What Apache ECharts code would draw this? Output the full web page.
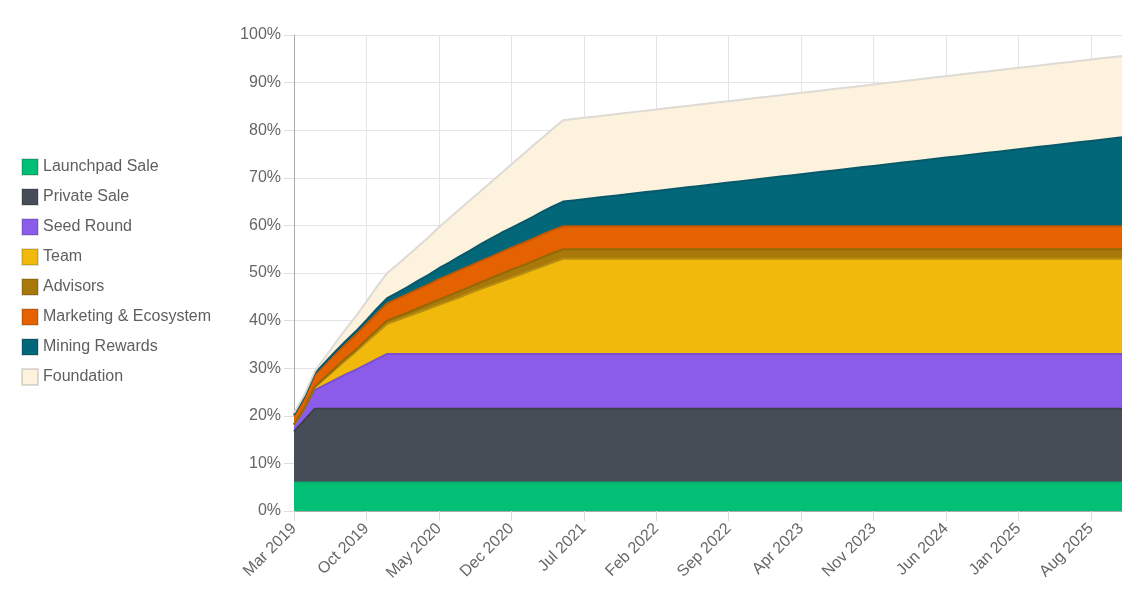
<!DOCTYPE html>
<html>
<head>
<meta charset="utf-8">
<title>Token Unlock Schedule</title>
<script src="https://cdn.jsdelivr.net/npm/echarts@6/dist/echarts.min.js"></script>
<style>
    html, body { margin: 0; padding: 0; background: #fff; }
    #main { width: 1137px; height: 599px; }
</style>
</head>
<body>
<div id="main"></div>
<script>
    // month labels, Mar 2019 .. Nov 2025
    var monthNames = ['Jan', 'Feb', 'Mar', 'Apr', 'May', 'Jun', 'Jul', 'Aug', 'Sep', 'Oct', 'Nov', 'Dec'];
    var startYear = 2019, startMonth = 2, monthCount = 81;
    var months = [];
    for (var i = 0; i < monthCount; i++) {
        var m = startMonth + i;
        months.push(monthNames[m % 12] + ' ' + (startYear + Math.floor(m / 12)));
    }

    // unlocked share of total supply, % per month
    var launchpadSale = [
        6, 6, 6, 6, 6, 6, 6, 6, 6, 6, 6, 6, 6, 6, 6, 6, 6, 6, 6, 6, 6, 6, 6, 6, 6, 6, 6,
        6, 6, 6, 6, 6, 6, 6, 6, 6, 6, 6, 6, 6, 6, 6, 6, 6, 6, 6, 6, 6, 6, 6, 6, 6, 6, 6,
        6, 6, 6, 6, 6, 6, 6, 6, 6, 6, 6, 6, 6, 6, 6, 6, 6, 6, 6, 6, 6, 6, 6, 6, 6, 6, 6
    ];
    var privateSale = [
        10.7, 13.1, 15.5, 15.5, 15.5, 15.5, 15.5, 15.5, 15.5, 15.5, 15.5, 15.5, 15.5, 15.5, 15.5, 15.5, 15.5, 15.5, 15.5, 15.5, 15.5, 15.5, 15.5, 15.5, 15.5, 15.5, 15.5,
        15.5, 15.5, 15.5, 15.5, 15.5, 15.5, 15.5, 15.5, 15.5, 15.5, 15.5, 15.5, 15.5, 15.5, 15.5, 15.5, 15.5, 15.5, 15.5, 15.5, 15.5, 15.5, 15.5, 15.5, 15.5, 15.5, 15.5,
        15.5, 15.5, 15.5, 15.5, 15.5, 15.5, 15.5, 15.5, 15.5, 15.5, 15.5, 15.5, 15.5, 15.5, 15.5, 15.5, 15.5, 15.5, 15.5, 15.5, 15.5, 15.5, 15.5, 15.5, 15.5, 15.5, 15.5
    ];
    var seedRound = [
        1.4, 2.3, 3.9, 5.0, 6.1, 7.2, 8.2, 9.3, 10.4, 11.5, 11.5, 11.5, 11.5, 11.5, 11.5, 11.5, 11.5, 11.5, 11.5, 11.5, 11.5, 11.5, 11.5, 11.5, 11.5, 11.5, 11.5,
        11.5, 11.5, 11.5, 11.5, 11.5, 11.5, 11.5, 11.5, 11.5, 11.5, 11.5, 11.5, 11.5, 11.5, 11.5, 11.5, 11.5, 11.5, 11.5, 11.5, 11.5, 11.5, 11.5, 11.5, 11.5, 11.5, 11.5,
        11.5, 11.5, 11.5, 11.5, 11.5, 11.5, 11.5, 11.5, 11.5, 11.5, 11.5, 11.5, 11.5, 11.5, 11.5, 11.5, 11.5, 11.5, 11.5, 11.5, 11.5, 11.5, 11.5, 11.5, 11.5, 11.5, 11.5
    ];
    var team = [
        0, 0.1, 0.6, 1.4, 2.2, 3.0, 3.8, 4.7, 5.5, 6.3, 7.1, 7.9, 8.7, 9.5, 10.3, 11.1, 11.9, 12.8, 13.6, 14.4, 15.2, 16.0, 16.8, 17.6, 18.4, 19.2, 20,
        20, 20, 20, 20, 20, 20, 20, 20, 20, 20, 20, 20, 20, 20, 20, 20, 20, 20, 20, 20, 20, 20, 20, 20, 20, 20, 20,
        20, 20, 20, 20, 20, 20, 20, 20, 20, 20, 20, 20, 20, 20, 20, 20, 20, 20, 20, 20, 20, 20, 20, 20, 20, 20, 20
    ];
    var advisors = [
        0.1, 0.1, 0.1, 0.2, 0.3, 0.4, 0.4, 0.5, 0.6, 0.7, 0.8, 0.8, 0.9, 1.0, 1.1, 1.2, 1.3, 1.3, 1.4, 1.5, 1.6, 1.7, 1.7, 1.8, 1.9, 2.0, 2.0,
        2, 2, 2, 2, 2, 2, 2, 2, 2, 2, 2, 2, 2, 2, 2, 2, 2, 2, 2, 2, 2, 2, 2, 2, 2, 2, 2,
        2, 2, 2, 2, 2, 2, 2, 2, 2, 2, 2, 2, 2, 2, 2, 2, 2, 2, 2, 2, 2, 2, 2, 2, 2, 2, 2
    ];
    var marketing = [
        1.8, 2.1, 2.5, 2.7, 2.9, 3.0, 3.2, 3.3, 3.5, 3.6, 3.7, 3.9, 4.0, 4.1, 4.3, 4.3, 4.4, 4.4, 4.5, 4.5, 4.6, 4.6, 4.7, 4.7, 4.8, 4.8, 4.8,
        4.8, 4.8, 4.8, 4.8, 4.8, 4.8, 4.8, 4.8, 4.8, 4.8, 4.8, 4.8, 4.8, 4.8, 4.8, 4.8, 4.8, 4.8, 4.8, 4.8, 4.8, 4.8, 4.8, 4.8, 4.8, 4.8, 4.8,
        4.8, 4.8, 4.8, 4.8, 4.8, 4.8, 4.8, 4.8, 4.8, 4.8, 4.8, 4.8, 4.8, 4.8, 4.8, 4.8, 4.8, 4.8, 4.8, 4.8, 4.8, 4.8, 4.8, 4.8, 4.8, 4.8, 4.8
    ];
    var miningRewards = [
        0.2, 0.3, 0.3, 0.4, 0.5, 0.6, 0.7, 0.8, 1.0, 1.1, 1.3, 1.5, 1.8, 2.0, 2.3, 2.6, 2.9, 3.2, 3.5, 3.8, 4.0, 4.2, 4.4, 4.6, 4.8, 5.0, 5.2,
        5.45, 5.7, 5.95, 6.2, 6.45, 6.7, 6.95, 7.2, 7.45, 7.7, 7.95, 8.2, 8.45, 8.7, 8.95, 9.2, 9.45, 9.7, 9.95, 10.2, 10.45, 10.7, 10.95, 11.2, 11.45, 11.7, 11.95,
        12.2, 12.45, 12.7, 12.95, 13.2, 13.45, 13.7, 13.95, 14.2, 14.45, 14.7, 14.95, 15.2, 15.45, 15.7, 15.95, 16.2, 16.45, 16.7, 16.95, 17.2, 17.45, 17.7, 17.95, 18.2, 18.45, 18.7
    ];
    var foundation = [
        0.4, 0.4, 0.4, 1.1, 1.8, 2.5, 3.2, 3.9, 4.6, 5.3, 5.9, 6.6, 7.2, 7.9, 8.6, 9.3, 9.9, 10.6, 11.1, 11.8, 12.5, 13.3, 14.1, 14.9, 15.5, 16.3, 17.1,
        17.1, 17.1, 17.1, 17.1, 17.1, 17.1, 17.1, 17.1, 17.1, 17.1, 17.1, 17.1, 17.1, 17.1, 17.1, 17.1, 17.1, 17.1, 17.1, 17.1, 17.1, 17.1, 17.1, 17.1, 17.1, 17.1, 17.1,
        17.1, 17.1, 17.1, 17.1, 17.1, 17.1, 17.1, 17.1, 17.1, 17.1, 17.1, 17.1, 17.1, 17.1, 17.1, 17.1, 17.1, 17.1, 17.1, 17.1, 17.1, 17.1, 17.1, 17.1, 17.1, 17.1, 17.1
    ];

    function areaSeries(name, data, fill, edge) {
        return {
            name: name,
            type: 'line',
            stack: 'supply',
            data: data,
            symbol: 'none',
            smooth: false,
            itemStyle: { color: fill },
            lineStyle: { color: edge, width: 2 },
            areaStyle: { color: fill, opacity: 1 },
            emphasis: { disabled: true }
        };
    }

    var myChart = echarts.init(document.getElementById('main'));
    var option = {
        animation: false,
        textStyle: { fontFamily: 'Liberation Sans, Arial, sans-serif' },
        legend: {
            orient: 'vertical',
            left: 21,
            top: 158,
            padding: 0,
            icon: 'rect',
            itemWidth: 16,
            itemHeight: 16,
            itemGap: 12,
            itemStyle: { borderColor: 'rgba(0,0,0,0.13)', borderWidth: 2 },
            textStyle: { fontSize: 16, color: '#5f5f5f' },
            data: ['Launchpad Sale', 'Private Sale', 'Seed Round', 'Team', 'Advisors',
                   'Marketing & Ecosystem', 'Mining Rewards', 'Foundation']
        },
        grid: { left: 294, right: 15, top: 35, bottom: 88 },
        xAxis: {
            type: 'category',
            boundaryGap: false,
            data: months,
            axisLine: { lineStyle: { color: '#aaa' } },
            axisTick: { interval: 6, length: 10, lineStyle: { color: '#ddd' } },
            axisLabel: { interval: 6, rotate: 45, fontSize: 16, color: '#666', margin: 15 },
            splitLine: { show: true, interval: 6, lineStyle: { color: '#e4e4e4' } }
        },
        yAxis: {
            type: 'value',
            min: 0,
            max: 100,
            interval: 10,
            axisLine: { show: true, lineStyle: { color: '#aaa' } },
            axisTick: { show: true, length: 10, lineStyle: { color: '#ddd' } },
            axisLabel: { formatter: '{value}%', fontSize: 16, color: '#666', margin: 13 },
            splitLine: { lineStyle: { color: '#e4e4e4' } }
        },
        series: [
            areaSeries('Launchpad Sale', launchpadSale, '#02bf76', '#05b26f'),
            areaSeries('Private Sale', privateSale, '#474d57', '#3c4149'),
            areaSeries('Seed Round', seedRound, '#8b5cea', '#7a4fd3'),
            areaSeries('Team', team, '#f0b90b', '#b88d10'),
            areaSeries('Advisors', advisors, '#a9780a', '#936806'),
            areaSeries('Marketing & Ecosystem', marketing, '#e46200', '#c45600'),
            areaSeries('Mining Rewards', miningRewards, '#03677a', '#05596a'),
            areaSeries('Foundation', foundation, '#fdf2dd', '#dedad4')
        ]
    };
    myChart.setOption(option);
</script>
</body>
</html>
